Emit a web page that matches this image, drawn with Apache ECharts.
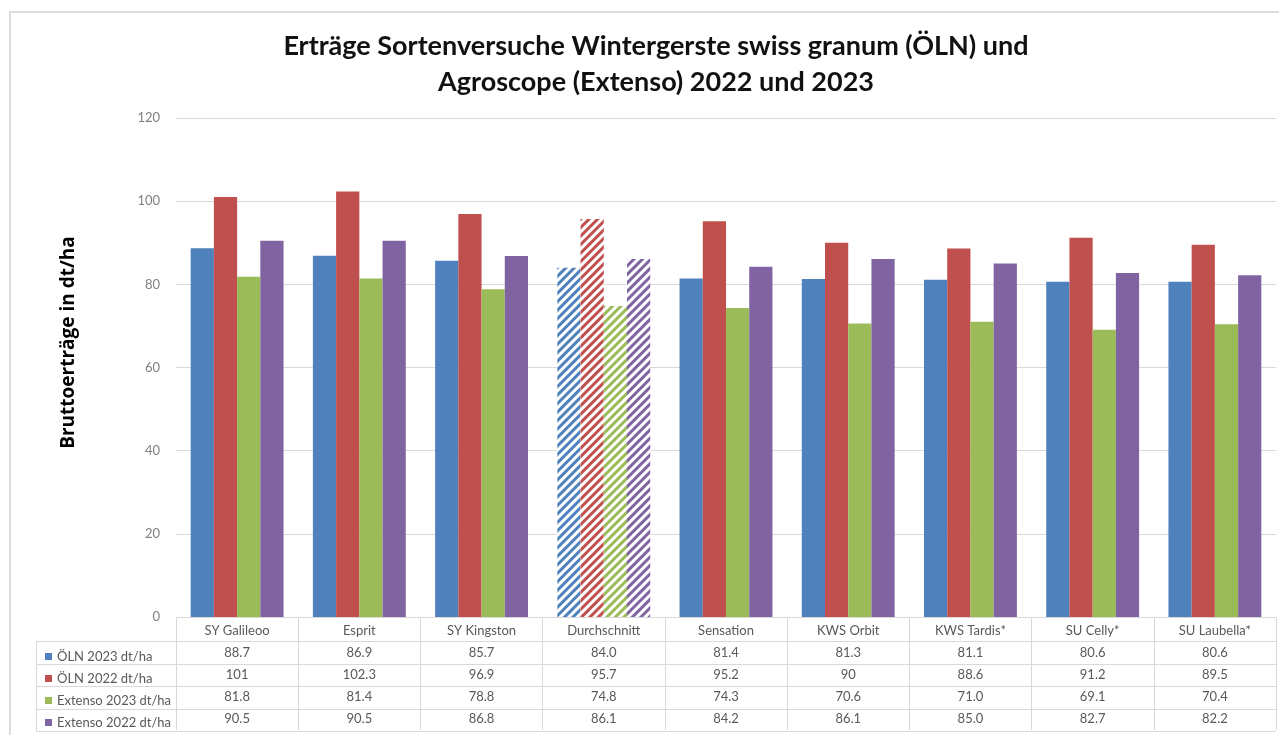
<!DOCTYPE html>
<html>
<head>
<meta charset="utf-8">
<script src="https://cdn.jsdelivr.net/npm/echarts@6/dist/echarts.min.js"></script>
<style>html,body{margin:0;padding:0;background:#fff;}#c{width:1279px;height:735px;}</style>
</head>
<body>
<div id="c"></div>
<script>
const categories = ['SY Galileoo','Esprit','SY Kingston','Durchschnitt','Sensation','KWS Orbit','KWS Tardis*','SU Celly*','SU Laubella*'];
const seriesNames = ['ÖLN 2023 dt/ha','ÖLN 2022 dt/ha','Extenso 2023 dt/ha','Extenso 2022 dt/ha'];
const oln2023 = [88.7, 86.9, 85.7, 84.0, 81.4, 81.3, 81.1, 80.6, 80.6];
const oln2022 = [101, 102.3, 96.9, 95.7, 95.2, 90, 88.6, 91.2, 89.5];
const extenso2023 = [81.8, 81.4, 78.8, 74.8, 74.3, 70.6, 71.0, 69.1, 70.4];
const extenso2022 = [90.5, 90.5, 86.8, 86.1, 84.2, 86.1, 85.0, 82.7, 82.2];
const tableText = [
  ['88.7','86.9','85.7','84.0','81.4','81.3','81.1','80.6','80.6'],
  ['101','102.3','96.9','95.7','95.2','90','88.6','91.2','89.5'],
  ['81.8','81.4','78.8','74.8','74.3','70.6','71.0','69.1','70.4'],
  ['90.5','90.5','86.8','86.1','84.2','86.1','85.0','82.7','82.2']
];
const yTicks = [0, 20, 40, 60, 80, 100, 120];
const averageCategory = 'Durchschnitt';

const colors = ['#4f81bd','#c0504d','#9bbb59','#8064a2'];
const allValues = [oln2023, oln2022, extenso2023, extenso2022];
const FONT = 'Lato, "Open Sans", sans-serif';

const chart = echarts.init(document.getElementById('c'), null, {renderer: 'canvas'});

const series = allValues.map((vals, si) => ({
  name: seriesNames[si],
  type: 'bar',
  barGap: '0%',
  barCategoryGap: '24%',
  itemStyle: { color: colors[si] },
  data: vals.map((v, i) => categories[i] === averageCategory ? {
    value: v,
    itemStyle: {
      color: '#ffffff',
      decal: {
        symbol: 'rect',
        color: colors[si],
        dashArrayX: [1, 0],
        dashArrayY: [3, 3],
        rotation: -Math.PI / 4
      }
    }
  } : v)
}));

const rich = { c: { fontSize: 13, color: '#595959', lineHeight: 22, fontFamily: FONT } };

const tableTop = 619, rowH = 22.4;
const hLines = [];
for (let r = 1; r <= 5; r++) {
  const y = Math.round(tableTop + r * rowH) + 0.5;
  hLines.push({ type: 'line', shape: { x1: 36, y1: y, x2: 1276, y2: y }, style: { stroke: '#d9d9d9', lineWidth: 1 }, silent: true });
}
hLines.push({ type: 'line', shape: { x1: 36.5, y1: tableTop + rowH, x2: 36.5, y2: tableTop + 5 * rowH }, style: { stroke: '#d9d9d9', lineWidth: 1 }, silent: true });
hLines.push({ type: 'rect', shape: { x: 10, y: 12, width: 1300, height: 800 }, style: { fill: 'none', stroke: '#dcdcdc', lineWidth: 2 }, silent: true });

chart.setOption({
  backgroundColor: '#ffffff',
  animation: false,
  title: {
    text: 'Erträge Sortenversuche Wintergerste swiss granum (ÖLN) und\nAgroscope (Extenso) 2022 und 2023',
    left: 651, top: 23, textAlign: 'center',
    textStyle: { fontFamily: FONT, fontWeight: 'bold', fontSize: 27, color: '#111', lineHeight: 36 }
  },
  legend: {
    orient: 'vertical', left: 40, top: 645,
    itemWidth: 7, itemHeight: 7, itemGap: 9,
    icon: 'rect',
    data: seriesNames,
    textStyle: { fontFamily: FONT, fontSize: 13, color: '#595959' },
    selectedMode: false
  },
  grid: { left: 176, right: 3, top: 118, bottom: 118, containLabel: false },
  xAxis: {
    type: 'category',
    data: categories,
    axisLine: { show: true, lineStyle: { color: '#d9d9d9', width: 1 } },
    axisTick: { show: true, length: 113, lineStyle: { color: '#d9d9d9' } },
    axisLabel: {
      margin: 3,
      verticalAlign: 'top',
      interval: 0,
      formatter: (val, idx) => {
        const lines = [val].concat(tableText.map(row => row[idx]));
        return lines.map(l => '{c|' + l + '}').join('\n');
      },
      rich: rich
    }
  },
  yAxis: {
    type: 'value',
    min: 0, max: 120, interval: 20,
    name: 'Bruttoerträge in dt/ha',
    nameLocation: 'middle',
    nameGap: 98,
    nameTextStyle: { fontFamily: '"Open Sans", sans-serif', fontWeight: 'bold', fontSize: 19, color: '#000', padding: [0, 0, 0, 50] },
    axisLine: { show: false },
    axisTick: { show: false },
    axisLabel: {
      margin: 16, fontSize: 13, color: '#7f7f7f', fontFamily: FONT,
      formatter: v => yTicks.includes(v) ? String(v) : ''
    },
    splitLine: { lineStyle: { color: '#d9d9d9', width: 1 } }
  },
  graphic: hLines,
  series: series
});
</script>
</body>
</html>
